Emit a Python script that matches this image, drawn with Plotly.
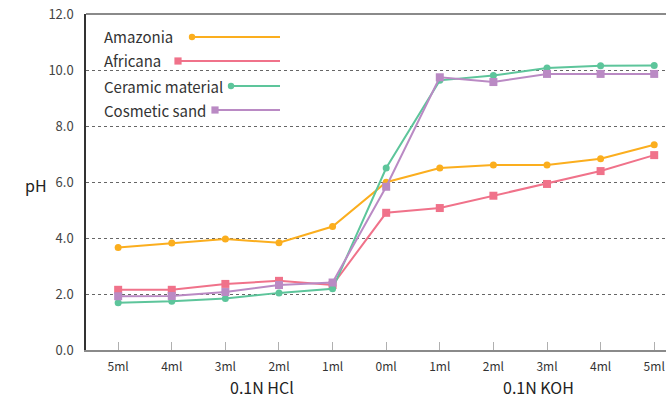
import plotly.graph_objects as go

tick_labels = ["5ml", "4ml", "3ml", "2ml", "1ml", "0ml", "1ml", "2ml", "3ml", "4ml", "5ml"]
series_names = ["Amazonia", "Africana", "Ceramic material", "Cosmetic sand"]
amazonia = [3.66, 3.82, 3.96, 3.83, 4.41, 5.99, 6.50, 6.61, 6.61, 6.83, 7.33]
africana = [2.15, 2.15, 2.36, 2.47, 2.32, 4.90, 5.07, 5.51, 5.93, 6.39, 6.96]
ceramic = [1.69, 1.74, 1.84, 2.04, 2.19, 6.50, 9.63, 9.80, 10.07, 10.15, 10.16]
cosmetic = [1.92, 1.93, 2.07, 2.32, 2.41, 5.83, 9.74, 9.57, 9.86, 9.86, 9.86]
group_labels = ["0.1N HCl", "0.1N KOH"]

colors = ["#FBAE1E", "#F0728A", "#5DC59B", "#BA8AC4"]
symbols = ["circle", "square", "circle", "square"]
sizes = [7, 8, 7, 8]
values = [amazonia, africana, ceramic, cosmetic]

FONT = "Noto Sans CJK JP"
x = list(range(len(tick_labels)))

fig = go.Figure()
for name, vals, c, s, sz in zip(series_names, values, colors, symbols, sizes):
    fig.add_trace(go.Scatter(
        x=x, y=vals, mode="lines+markers", name=name,
        line=dict(color=c, width=2),
        marker=dict(color=c, symbol=s, size=sz),
        showlegend=False,
    ))

W, H = 666, 398
L, R, T, B = 86, 0, 14, 48
pw, ph = W - L - R, H - T - B

def px(xp):
    return (xp - L) / pw

def py(yp):
    return (H - B - yp) / ph

shapes = []
annotations = []
# top frame line
shapes.append(dict(type="line", xref="paper", yref="paper", x0=0, x1=1, y0=1, y1=1,
                   line=dict(color="#8a8a8a", width=2)))
# legend
leg_y = [37, 61, 86, 110]
leg_start = [192, 178, 231, 215]
for name, c, s, yy, xs in zip(series_names, colors, symbols, leg_y, leg_start):
    annotations.append(dict(text=name, xref="paper", yref="paper", x=px(102), y=py(yy),
                            xanchor="left", yanchor="middle", showarrow=False,
                            font=dict(family=FONT, size=15, color="#333333")))
    shapes.append(dict(type="line", xref="paper", yref="paper", x0=px(xs), x1=px(280),
                       y0=py(yy), y1=py(yy), line=dict(color=c, width=2)))
    r = 3.2 if s == "circle" else 3.6
    shapes.append(dict(type="circle" if s == "circle" else "rect", xref="paper", yref="paper",
                       x0=px(xs - r), x1=px(xs + r), y0=py(yy + r), y1=py(yy - r),
                       fillcolor=c, line=dict(width=0)))

annotations.append(dict(text=group_labels[0], xref="x", yref="paper", x=2.68, y=py(387),
                        showarrow=False, xanchor="center", yanchor="middle",
                        font=dict(family=FONT, size=16, color="#222222")))
annotations.append(dict(text=group_labels[1], xref="x", yref="paper", x=7.85, y=py(387),
                        showarrow=False, xanchor="center", yanchor="middle",
                        font=dict(family=FONT, size=16, color="#222222")))
annotations.append(dict(text="pH", xref="paper", yref="paper", x=px(36), y=py(185),
                        showarrow=False, xanchor="center", yanchor="middle",
                        font=dict(family=FONT, size=16, color="#222222")))

fig.update_layout(
    width=W, height=H,
    margin=dict(l=L, r=R, t=T, b=B),
    paper_bgcolor="white", plot_bgcolor="white",
    shapes=shapes, annotations=annotations,
    xaxis=dict(
        range=[-0.6, 10.22], tickmode="array", tickvals=x, ticktext=tick_labels,
        showline=True, linecolor="#8a8a8a", linewidth=2,
        showgrid=False, zeroline=False,
        ticks="inside", ticklen=8, tickcolor="#b0b0b0", tickwidth=1,
        tickfont=dict(family=FONT, size=12, color="#333333"),
        ticklabelstandoff=5,
        automargin=False,
    ),
    yaxis=dict(
        range=[0, 12], tickvals=[0, 2, 4, 6, 8, 10, 12], tickformat=".1f",
        showline=True, linecolor="#333333", linewidth=1.5,
        showgrid=True, gridcolor="#666666", griddash="dot", gridwidth=1,
        zeroline=False, ticks="",
        tickfont=dict(family=FONT, size=13, color="#444444"),
        ticklabelstandoff=8,
        automargin=False,
    ),
)

fig.write_html("out.html", config={"displayModeBar": False},
               post_script="document.body.style.margin='0';document.body.style.overflow='hidden';")
